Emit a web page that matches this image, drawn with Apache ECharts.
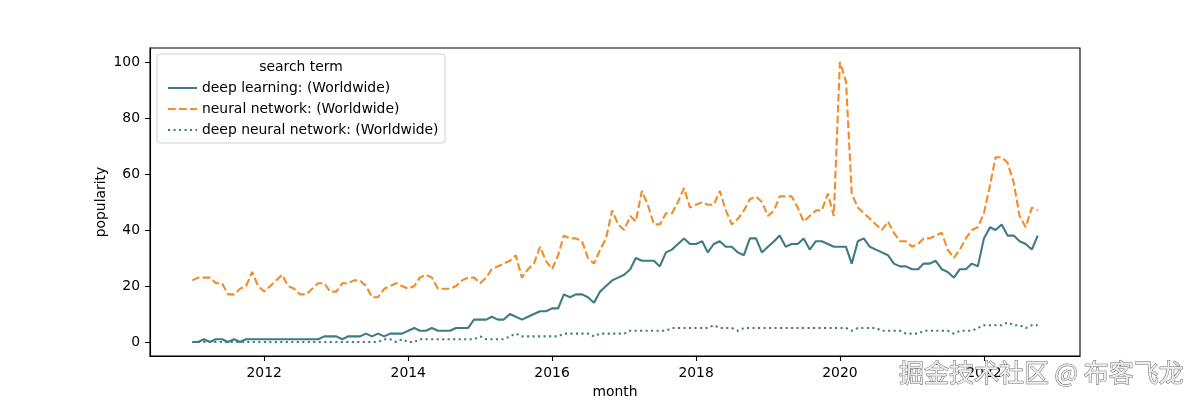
<!DOCTYPE html>
<html><head><meta charset="utf-8">
<script src="https://cdn.jsdelivr.net/npm/echarts@6/dist/echarts.min.js"></script>
<style>html,body{margin:0;padding:0;background:#fff}#c{width:1200px;height:400px}</style>
</head><body><div id="c"></div>
<script>
// monthly Google Trends popularity, Jan 2011 .. Oct 2022
const deepLearning = [
  0,0,1,0,1,1,0,1,0,1,1,1,
  1,1,1,1,1,1,1,1,1,1,2,2,
  2,1,2,2,2,3,2,3,2,3,3,3,
  4,5,4,4,5,4,4,4,5,5,5,8,
  8,8,9,8,8,10,9,8,9,10,11,11,
  12,12,17,16,17,17,16,14,18,20,22,23,
  24,26,30,29,29,29,27,32,33,35,37,35,
  35,36,32,35,36,34,34,32,31,37,37,32,
  34,36,38,34,35,35,37,33,36,36,35,34,
  34,34,28,36,37,34,33,32,31,28,27,27,
  26,26,28,28,29,26,25,23,26,26,28,27,
  37,41,40,42,38,38,36,35,33,38
];
const neuralNetwork = [
  22,23,23,23,21,21,17,17,19,20,25,20,
  18,20,22,24,20,19,17,17,19,21,21,18,
  18,21,21,22,22,20,16,16,19,20,21,20,
  19,20,23,24,23,19,19,19,20,22,23,23,
  21,23,26,27,28,29,31,23,26,28,34,29,
  26,31,38,37,37,36,30,28,33,37,47,42,
  40,45,43,54,49,42,42,46,46,50,55,48,
  49,50,49,49,54,47,42,44,47,51,52,50,
  45,47,52,52,52,48,43,45,47,47,53,45,
  100,93,53,48,46,44,42,40,43,39,36,36,
  34,35,37,37,38,39,33,30,33,37,40,41,
  46,56,66,66,64,57,45,41,48,47
];
const deepNeuralNetwork = [
  0,0,0,0,0,0,0,0,0,0,0,0,
  0,0,0,0,0,0,0,0,0,0,0,0,
  0,0,0,0,0,0,0,0,1,1,0,1,
  0,0,1,1,1,1,1,1,1,1,1,1,
  2,1,1,1,1,2,3,2,2,2,2,2,
  2,2,3,3,3,3,3,2,3,3,3,3,
  3,4,4,4,4,4,4,4,5,5,5,5,
  5,5,5,6,5,5,5,4,5,5,5,5,
  5,5,5,5,5,5,5,5,5,5,5,5,
  5,5,4,5,5,5,5,4,4,4,4,3,
  3,3,4,4,4,4,4,3,4,4,4,5,
  6,6,6,6,7,6,6,5,6,6
];
const seriesNames = ['deep learning: (Worldwide)', 'neural network: (Worldwide)', 'deep neural network: (Worldwide)'];
const legendTitle = 'search term';
const xTickYears = [2012, 2014, 2016, 2018, 2020, 2022];
const yTicks = [0, 20, 40, 60, 80, 100];
const startYear = 2011;

const months = deepLearning.map((_, i) => Date.UTC(startYear + Math.floor(i / 12), i % 12, 1));
const xTicks = xTickYears.map(y => Date.UTC(y, 0, 1));
const span = months[months.length - 1] - months[0];
const xMin = months[0] - 0.05 * span, xMax = months[months.length - 1] + 0.05 * span;

const FONT = 'DejaVu Sans';
const FS = 13.9;
const teal = '#3f7b82', orange = '#f28c28';
const pair = arr => arr.map((v, i) => [months[i], v]);

const chart = echarts.init(document.getElementById('c'), null, {renderer: 'canvas'});
chart.setOption({
  animation: false,
  textStyle: {fontFamily: FONT},
  grid: {left: 150, right: 120, top: 48, bottom: 44, show: true, borderColor: '#000', borderWidth: 1.1,
    containLabel: false, outerBoundsMode: 'none'},
  xAxis: {
    type: 'value', min: xMin, max: xMax, scale: true,
    name: 'month', nameLocation: 'middle', nameGap: 29, nameMoveOverlap: false,
    nameTextStyle: {fontFamily: FONT, fontSize: FS, color: '#000'},
    axisLine: {show: true, onZero: false, lineStyle: {color: '#000', width: 1.1}},
    axisTick: {show: true, length: 5, lineStyle: {color: '#000', width: 1.1}, customValues: xTicks},
    axisLabel: {margin: 10, fontFamily: FONT, fontSize: FS, color: '#000', customValues: xTicks,
      formatter: v => String(new Date(v).getUTCFullYear())},
    splitLine: {show: false}
  },
  yAxis: {
    type: 'value', min: -5, max: 105,
    name: 'popularity', nameLocation: 'middle', nameGap: 42, nameRotate: 90, nameMoveOverlap: false,
    nameTextStyle: {fontFamily: FONT, fontSize: FS, color: '#000'},
    axisLine: {show: true, onZero: false, lineStyle: {color: '#000', width: 1.1}},
    axisTick: {show: true, length: 5, lineStyle: {color: '#000', width: 1.1}, customValues: yTicks},
    axisLabel: {margin: 10, fontFamily: FONT, fontSize: FS, color: '#000', customValues: yTicks},
    splitLine: {show: false}
  },
  legend: {
    orient: 'vertical', left: 162, top: 76, itemWidth: 29, itemHeight: 14, itemGap: 7,
    itemStyle: {opacity: 0},
    textStyle: {fontFamily: FONT, fontSize: FS, color: '#000'},
    data: seriesNames
  },
  series: [
    {name: seriesNames[0], type: 'line', data: pair(deepLearning), symbol: 'none',
      lineStyle: {color: teal, width: 2.1, cap: 'butt'}, itemStyle: {color: teal}},
    {name: seriesNames[1], type: 'line', data: pair(neuralNetwork), symbol: 'none',
      lineStyle: {color: orange, width: 2.1, type: [7.7, 3.3], cap: 'butt'}, itemStyle: {color: orange}},
    {name: seriesNames[2], type: 'line', data: pair(deepNeuralNetwork), symbol: 'none',
      lineStyle: {color: teal, width: 2.1, type: [2.1, 3.4], cap: 'butt'}, itemStyle: {color: teal}}
  ],
  graphic: [
    {type: 'rect', z: 3, shape: {x: 157, y: 54, width: 288, height: 89, r: 3},
      style: {fill: 'rgba(255,255,255,0.8)', stroke: '#d0d0d0', lineWidth: 1}},
    {type: 'text', z: 5, x: 301, y: 67, style: {text: legendTitle, font: FS + 'px "' + FONT + '"', fill: '#000', textAlign: 'center', textVerticalAlign: 'middle'}},
    {type: 'text', z: 100, x: 899, y: 372, style: {text: '掘金技术社区 @ 布客飞龙', font: '25px "Noto Sans CJK SC"', fill: '#eeeeee', stroke: '#6a6a6a', lineWidth: 1, textAlign: 'left', textVerticalAlign: 'middle'}}
  ]
});
</script>
</body></html>
